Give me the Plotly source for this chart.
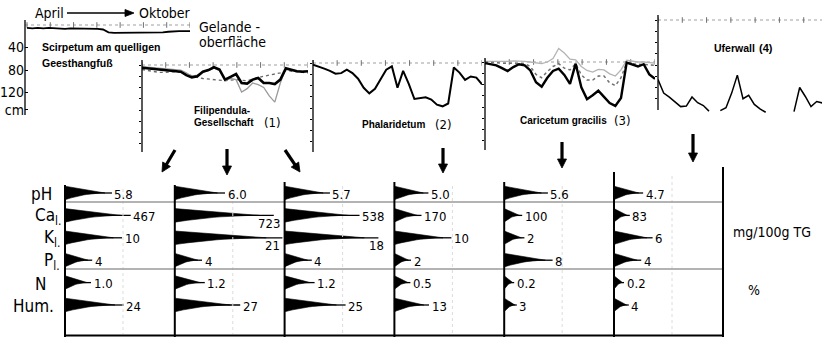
import numpy as np
import plotly.graph_objects as go

W, H = 822, 338
FONT = "Liberation Sans Narrow, Arial Narrow, DejaVu Sans Condensed, Liberation Sans, sans-serif"
BOLD = "Liberation Sans, Arial, sans-serif"

# ---------------- hydrograph data: weekly water-table depth below ground (cm), April -> October
WEEKS = list(range(31))
scirpetum = [5, 6, 5, 6, 5, 6, 6, 7, 6, 6, 7, 7, 6, 7, 8, 13, 14, 14, 13, 13, 14, 14, 13, 13, 14, 13, 12, 11, 11, 11, 11]
filip_black = [5, 6, 7, 8, 9, 10, 11, 12, 18, 22, 20, 12, 9, 4, 8, 26, 21, 16, 32, 33, 26, 23, 32, 32, 34, 26, 6, 9, 11, 12, 11]
filip_gray = [3, 4, 5, 6, 7, 8, 9, 9, 14, 20, 18, 12, 10, 5, 10, 28, 24, 26, 48, 42, 32, 35, 40, 55, 66, 32, 6, 9, 10, 11, 11]
filip_dot = [8, 10, 12, 13, 13, 12, 12, 13, 16, 20, 22, 24, 25, 26, 27, 28, 27, 26, 27, 28, 25, 22, 20, 18, 16, 14, 10, 11, 12, 13, 14]
phalaridetum = [3, 6, 10, 14, 19, 18, 12, 18, 28, 44, 54, 46, 30, 12, 6, 44, 14, 37, 64, 63, 61, 65, 74, 77, 72, 8, 17, 30, 24, 26, 38]
caric_black = [2, 4, 6, 11, 16, 9, 4, 6, 15, 36, 44, 28, 16, 12, 23, 39, 3, 45, 66, 59, 51, 62, 73, 78, 64, 1, 5, 8, 4, 22, 30]
caric_dash = [0, 1, 1, 2, 2, 2, 2, 3, 8, 22, 28, 17, 8, 3, 11, 14, 3, 23, 32, 32, 25, 25, 37, 42, 28, 1, 3, 4, 4, 5, 6]
caric_light = [-1, -1, 0, 0, -1, -2, -2, -1, 0, 2, 3, 0, -6, -24, -16, -5, -4, 8, 15, 18, 13, 14, 21, 25, 14, -3, -1, 0, 0, 1, 2]
uferwall = [106, 130, 137, 146, 154, 153, 137, 147, 152, 162, None, 161, 156, 130, 98, 140, 134, 150, 158, 164,
            None, None, None, None, 163, 120, 136, 154, 145, 148, 150]

# ---------------- soil data (6 profiles)
ROW_LABELS = ["pH", "Ca<sub>l.</sub>", "K<sub>l.</sub>", "P<sub>l.</sub>", "N", "Hum."]
pH = [5.8, 6.0, 5.7, 5.0, 5.6, 4.7]
Ca = [467, 723, 538, 170, 100, 83]
K = [10, 21, 18, 10, 2, 6]
P = [4, 4, 4, 2, 8, 4]
N = [1.0, 1.2, 1.2, 0.5, 0.2, 0.2]
Hum = [24, 27, 25, 13, 3, 4]
ROW_VALUES = [pH, Ca, K, P, N, Hum]
ROW_FMT = ["{:.1f}", "{:d}", "{:d}", "{:d}", "{:.1f}", "{:d}"]
# length scale of the wedges (px = a*v + b) per row
ROW_SCALE = [(16.2, -47.0), (0.13, 5.0), (4.6, 11.0), (5.3, 6.0), (20.0, 6.0), (2.2, 6.0)]

# ---------------- layout constants (pixels)
PX_PER_CM = 0.5625
PANELS = [  # axis x, week0 x, week30 x, axis line top/bottom, surface y, domain top/bottom
    dict(ax=25, d0=27, d1=190, lt=20, lb=115, surf=25, dt=15, db=120),
    dict(ax=142, d0=142, d1=308, lt=60, lb=152, surf=65, dt=50, db=152),
    dict(ax=313, d0=313, d1=482, lt=60, lb=152, surf=63, dt=50, db=152),
    dict(ax=485, d0=485, d1=655, lt=58, lb=150, surf=62, dt=35, db=150),
    dict(ax=658, d0=658, d1=828, lt=15, lb=110, surf=20, dt=10, db=116),
]
COL_X = [65 + 109.8 * c for c in range(6)]
COL_TOP = [185, 185, 182, 182, 182, 172]
FRAME_R = 723
ROW_Y = [193 + 22.4 * i for i in range(6)]

fig = go.Figure()
lay = dict(
    xaxis=dict(domain=[0, 1], range=[0, W], visible=False),
    yaxis=dict(domain=[0, 1], range=[H, 0], visible=False),
)
shapes = []
ann = []


def pline(x0, y0, x1, y1, color="black", width=1.2, dash="solid"):
    shapes.append(dict(type="line", xref="x", yref="y", x0=x0, y0=y0, x1=x1, y1=y1,
                       line=dict(color=color, width=width, dash=dash), layer="above"))


def txt(x, y, s, size=14, anchor="left", family=FONT):
    ann.append(dict(x=x / W, y=1 - y / H, xref="paper", yref="paper", text=s, showarrow=False,
                    xanchor=anchor, yanchor="middle", font=dict(size=size, family=family, color="black")))


def arrow(x0, y0, x1, y1, width=3.2, hl=9.0, hw=4.5):
    # thick shaft + filled triangular head pointing at (x1, y1)
    d = np.hypot(x1 - x0, y1 - y0)
    ux, uy = (x1 - x0) / d, (y1 - y0) / d
    bx, by = x1 - ux * hl, y1 - uy * hl
    px, py = -uy, ux
    fig.add_trace(go.Scatter(x=[x0, bx + ux * 1.5], y=[y0, by + uy * 1.5], mode="lines",
                             line=dict(color="black", width=width), hoverinfo="skip"))
    fig.add_trace(go.Scatter(x=[x1, bx + px * hw, bx - px * hw, x1], y=[y1, by + py * hw, by - py * hw, y1],
                             mode="lines", fill="toself", fillcolor="black",
                             line=dict(color="black", width=0.8), hoverinfo="skip"))


MONTHS = [30 * k / 7 for k in range(8)]
series = [
    [(scirpetum, "black", 1.8, "solid")],
    [(filip_dot, "#6a6a6a", 1.3, "dot"), (filip_gray, "#9a9a9a", 1.3, "solid"), (filip_black, "black", 2.6, "solid")],
    [(phalaridetum, "black", 2.0, "solid")],
    [(caric_light, "#b4b4b4", 1.3, "solid"), (caric_dash, "#707070", 1.5, "dot"), (caric_black, "black", 2.4, "solid")],
    [(uferwall, "black", 1.5, "solid")],
]

for i, p in enumerate(PANELS):
    k = i + 2
    ppw = (p["d1"] - p["d0"]) / 30.0
    right = min(p["d1"], W)
    xr = [(p["ax"] - p["d0"]) / ppw, (right - p["d0"]) / ppw]
    yr = [(p["db"] - p["surf"]) / PX_PER_CM, (p["dt"] - p["surf"]) / PX_PER_CM]
    lay[f"xaxis{k}"] = dict(domain=[p["ax"] / W, right / W], range=xr, visible=False, anchor=f"y{k}")
    ya = dict(domain=[1 - p["db"] / H, 1 - p["dt"] / H], range=yr, anchor=f"x{k}",
              showgrid=False, zeroline=False, showline=False, ticks="outside", ticklen=2,
              tickcolor="black", showticklabels=False,
              tickvals=[d for d in range(0, 200, 20) if p["surf"] + d * PX_PER_CM < p["lb"] - 2])
    if i == 0:
        ya.update(tickvals=[40, 80, 120, 151], ticktext=["40", "80", "120", "cm"], ticks="inside",
                  ticklen=3, showticklabels=True, tickfont=dict(size=14, family=FONT, color="black"))
    lay[f"yaxis{k}"] = ya
    # ground surface
    fig.add_trace(go.Scatter(x=xr, y=[0, 0], xaxis=f"x{k}", yaxis=f"y{k}", mode="lines",
                             line=dict(color="#a0a0a0", width=1.2, dash="dot"), hoverinfo="skip"))
    fig.add_trace(go.Scatter(x=MONTHS, y=[0] * len(MONTHS), xaxis=f"x{k}", yaxis=f"y{k}", mode="markers",
                             marker=dict(symbol="line-ns", size=4, line=dict(width=1, color="#707070")),
                             hoverinfo="skip"))
    for vals, col, w, dash in series[i]:
        fig.add_trace(go.Scatter(x=WEEKS, y=vals, xaxis=f"x{k}", yaxis=f"y{k}", mode="lines",
                                 connectgaps=False, line=dict(color=col, width=w, dash=dash, shape="linear"),
                                 hoverinfo="skip"))
    pline(p["ax"], p["lt"], p["ax"], p["lb"], width=1.3)

# ---------------- soil wedges
wx, wy, lx, ly = [], [], [], []
t = np.linspace(0, 1, 14)
for r, vals in enumerate(ROW_VALUES):
    a, b = ROW_SCALE[r]
    yc = ROW_Y[r]
    for c, v in enumerate(vals):
        x0 = COL_X[c]
        L = a * v + b
        Lw = 0.85 * L
        xs = list(x0 + Lw * t) + list(x0 + Lw * t[::-1]) + [x0]
        ys = list(yc - 6.8 * (1 - t) ** 1.1) + list(yc + 6.8 * (1 - t[::-1]) ** 2.0) + [yc - 6.8]
        wx += xs + [None]
        wy += ys + [None]
        lx += [x0 + 0.5 * L, x0 + L, None]
        ly += [yc, yc, None]
        s = ROW_FMT[r].format(v)
        tip = x0 + L
        nxt = COL_X[c + 1] if c < 5 else FRAME_R
        if tip + 3 + 7.5 * len(s) > nxt - 3:
            ann.append(dict(x=min(tip + 8, nxt - 3), y=yc + 8, xref="x", yref="y", text=s, showarrow=False,
                            xanchor="right", yanchor="middle", font=dict(size=13, family=FONT, color="black")))
        else:
            ann.append(dict(x=tip + 0.5, y=yc + 1, xref="x", yref="y", text=s, showarrow=False,
                            xanchor="left", yanchor="middle", font=dict(size=13, family=FONT, color="black")))
fig.add_trace(go.Scatter(x=wx, y=wy, mode="lines", fill="toself", fillcolor="black",
                         line=dict(color="black", width=0.6), hoverinfo="skip"))
fig.add_trace(go.Scatter(x=lx, y=ly, mode="lines", line=dict(color="black", width=1.3), hoverinfo="skip"))

# bottom frame
for c in range(6):
    pline(COL_X[c] + 58, COL_TOP[c] + 4, COL_X[c] + 58, 334, color="#dcdcdc", width=1, dash="dot")
for yy in (202, 269):
    pline(COL_X[0], yy, FRAME_R, yy, color="#9a9a9a", width=1.6)
for c in range(6):
    pline(COL_X[c], COL_TOP[c], COL_X[c], 337, width=2)
pline(FRAME_R, 167, FRAME_R, 337, width=2)
pline(COL_X[0], 335.5, FRAME_R, 335.5, width=2)

# row labels
LABEL_RIGHT = [54, 63, 62, 62, 48, 56]
for r, lab in enumerate(ROW_LABELS):
    txt(LABEL_RIGHT[r], ROW_Y[r] + 1, lab, size=17, anchor="right")
txt(731, 232, "mg/100g TG", size=14)
txt(746, 290, "%", size=14)

# header texts
txt(33, 13, "April", size=14)
txt(137, 13, "Oktober", size=14)
arrow(67, 13, 134, 13, width=1.6, hl=9, hw=3.5)
txt(197, 27, "Gelande -", size=14)
txt(197, 42, "oberfläche", size=14)
txt(40, 47, "<b>Scirpetum am quelligen</b>", size=10.5, family=BOLD)
txt(40, 63, "<b>Geesthangfuß</b>", size=10.5, family=BOLD)
txt(192, 110, "<b>Filipendula-</b>", size=10, family=BOLD)
txt(192, 123, "<b>Gesellschaft</b>", size=10, family=BOLD)
txt(262, 123, "(1)", size=13)
txt(360, 124, "<b>Phalaridetum</b>", size=10, family=BOLD)
txt(433, 124, "(2)", size=13)
txt(518, 120, "<b>Caricetum gracilis</b>", size=10, family=BOLD)
txt(612, 120, "(3)", size=13)
txt(712, 48, "<b>Uferwall</b>", size=10.5, family=BOLD)
txt(757, 48, "<b>(4)</b>", size=11, family=BOLD)

# arrows from sites to soil profiles
arrow(175, 150, 162, 172)
arrow(227, 149, 227, 175)
arrow(285, 150, 300, 172)
arrow(443, 148, 443, 173)
arrow(562, 142, 562, 168)
arrow(693, 134, 693, 162)

fig.update_layout(width=W, height=H, margin=dict(l=0, r=0, t=0, b=0), showlegend=False,
                  paper_bgcolor="white", plot_bgcolor="rgba(0,0,0,0)", hovermode=False,
                  shapes=shapes, annotations=ann, **lay)
fig.write_html("out.html")
